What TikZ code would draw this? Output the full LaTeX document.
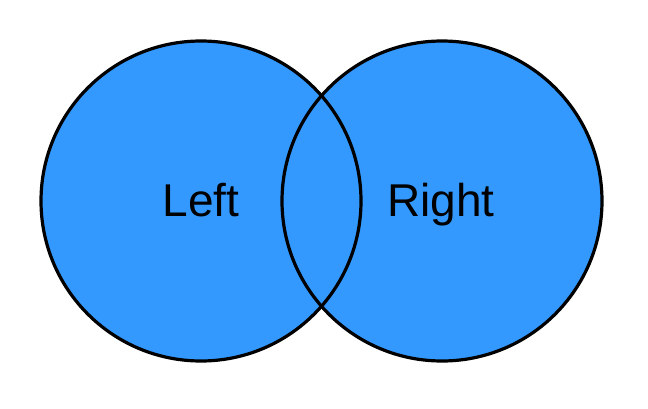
\documentclass[tikz,border=0pt]{standalone}
\usepackage{fontspec}
\setmainfont{Liberation Sans}
\definecolor{vennblue}{RGB}{51,153,255}
\begin{document}
\begin{tikzpicture}[x=1pt,y=1pt,
  venn/.style={fill=vennblue},
  vennline/.style={draw=black,line width=3.2pt},
  lbl/.style={font=\fontsize{46}{55}\selectfont,text=black,anchor=base,inner sep=0pt}]
\useasboundingbox (0,0) rectangle (648,408);
\fill[venn] (201,207) circle (160);
\fill[venn] (442,207) circle (160);
\draw[vennline] (201,207) circle (160);
\draw[vennline] (442,207) circle (160);
\node[lbl] (left) at (201,192) {Left};
\node[lbl] (right) at (441,192) {Right};
\end{tikzpicture}
\end{document}
